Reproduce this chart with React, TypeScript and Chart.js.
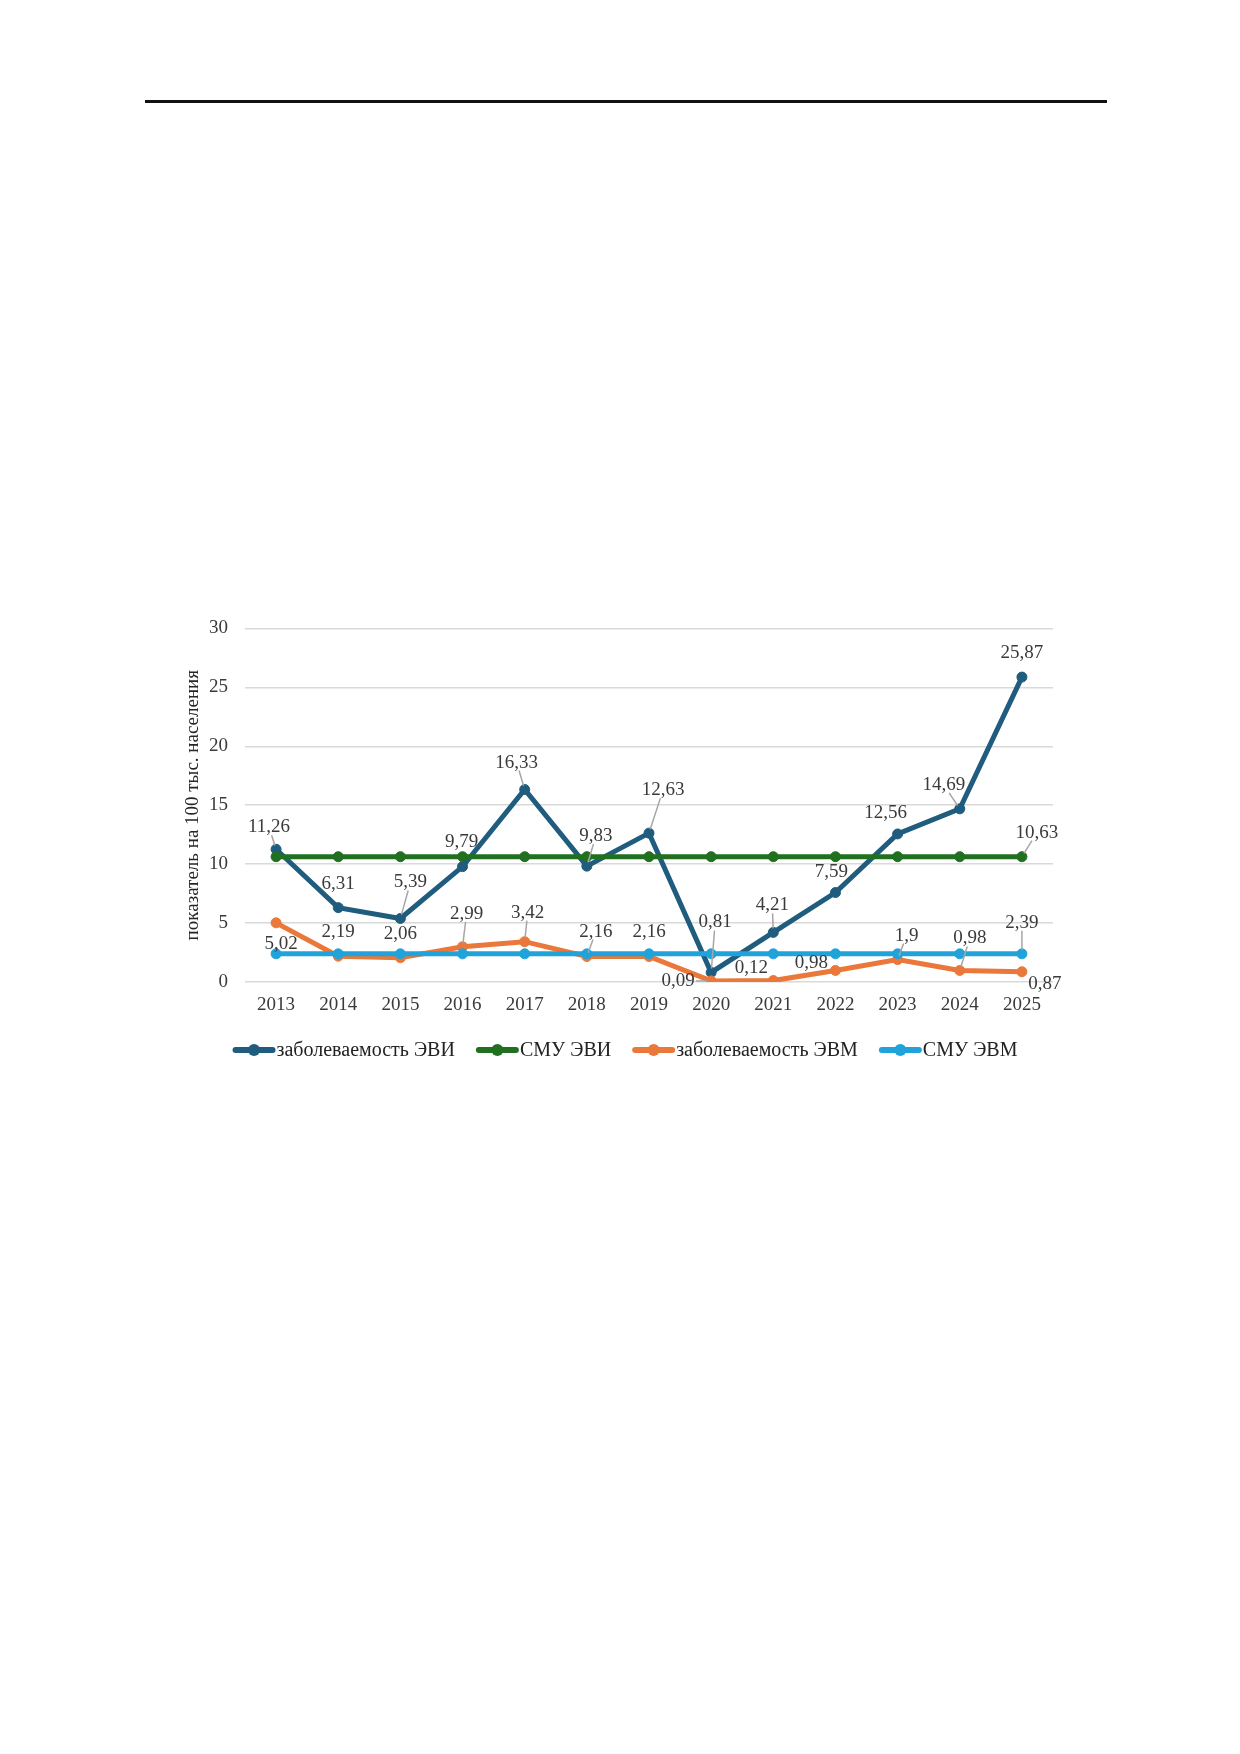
import { useEffect, useRef } from "react";
import { Chart, registerables, Plugin } from "chart.js";

Chart.register(...registerables);

const years = ["2013", "2014", "2015", "2016", "2017", "2018", "2019", "2020", "2021", "2022", "2023", "2024", "2025"];

const incidenceEVI = [11.26, 6.31, 5.39, 9.79, 16.33, 9.83, 12.63, 0.81, 4.21, 7.59, 12.56, 14.69, 25.87];
const smuEVI = [10.63, 10.63, 10.63, 10.63, 10.63, 10.63, 10.63, 10.63, 10.63, 10.63, 10.63, 10.63, 10.63];
const incidenceEVM = [5.02, 2.19, 2.06, 2.99, 3.42, 2.16, 2.16, 0.09, 0.12, 0.98, 1.9, 0.98, 0.87];
const smuEVM = [2.39, 2.39, 2.39, 2.39, 2.39, 2.39, 2.39, 2.39, 2.39, 2.39, 2.39, 2.39, 2.39];

const seriesNames = ["заболеваемость ЭВИ", "СМУ ЭВИ", "заболеваемость ЭВМ", "СМУ ЭВМ"];
const seriesColors = ["#1f5c7e", "#21701f", "#e9783a", "#1fa3da"];

const yTicks = [0, 5, 10, 15, 20, 25, 30];
const yTitle = "показатель на 100 тыс. населения";

// label placement: [dx, dy, leader line?] per point, null = no label
type Lbl = [number, number, boolean] | null;
const labelsEVI: Lbl[] = [
  [-7, -22, true], [0, -24, false], [10, -36, true], [-1, -25, false], [-8, -27, true],
  [9, -30, true], [14, -43, true], [4, -50, true], [-1, -27, true], [-4, -21, false],
  [-12, -21, false], [-16, -24, true], [0, -24, false],
];
const labelsSmuEVI: Lbl[] = [null, null, null, null, null, null, null, null, null, null, null, null, [15, -24, true]];
const labelsEVM: Lbl[] = [
  [5, 21, false], [0, -24, false], [0, -24, false], [4, -33, true], [3, -29, true],
  [9, -25, true], [0, -25, false], [-33, 0, true], [-22, -13, false], [-24, -7, false],
  [9, -24, true], [10, -32, true], [23, 12, false],
];
const labelsSmuEVM: Lbl[] = [null, null, null, null, null, null, null, null, null, null, null, null, [0, -31, true]];
const labelSets = [labelsEVI, labelsSmuEVI, labelsEVM, labelsSmuEVM];

const FONT = "'Liberation Serif', 'Times New Roman', serif";

const dataLabels: Plugin<"line"> = {
  id: "dataLabels",
  afterDatasetsDraw(chart) {
    const ctx = chart.ctx;
    ctx.save();
    ctx.font = `19px ${FONT}`;
    ctx.textAlign = "center";
    ctx.textBaseline = "middle";
    chart.data.datasets.forEach((ds, di) => {
      const meta = chart.getDatasetMeta(di);
      const set = labelSets[di];
      meta.data.forEach((pt, i) => {
        const l = set[i];
        if (!l) return;
        const v = ds.data[i] as number;
        const text = String(v).replace(".", ",");
        const lx = pt.x + l[0];
        const ly = pt.y + l[1];
        if (l[2]) {
          const hw = ctx.measureText(text).width / 2 + 1;
          const hh = 8;
          const dx = pt.x - lx;
          const dy = pt.y - ly;
          const len = Math.hypot(dx, dy);
          const s = Math.min(Math.abs(dx) > 0 ? hw / Math.abs(dx) : Infinity, Math.abs(dy) > 0 ? hh / Math.abs(dy) : Infinity);
          const sx = lx + dx * s;
          const sy = ly + dy * s;
          const ex = pt.x - (dx / len) * 4;
          const ey = pt.y - (dy / len) * 4;
          if (s < 1) {
            ctx.strokeStyle = "#a6a6a6";
            ctx.lineWidth = 1.5;
            ctx.beginPath();
            ctx.moveTo(sx, sy);
            ctx.lineTo(ex, ey);
            ctx.stroke();
          }
        }
        ctx.fillStyle = "#3a3a3a";
        ctx.fillText(text, lx, ly);
      });
    });
    ctx.restore();
  },
};

const lineLegend: Plugin<"line"> = {
  id: "lineLegend",
  afterDraw(chart) {
    const ctx = chart.ctx;
    const area = chart.chartArea;
    ctx.save();
    ctx.font = `20px ${FONT}`;
    ctx.textBaseline = "middle";
    ctx.textAlign = "left";
    const markW = 43;
    const gapIn = 1;
    const gapOut = 21;
    const widths = seriesNames.map((n) => ctx.measureText(n).width);
    const total = widths.reduce((a, w) => a + markW + gapIn + w, 0) + gapOut * (seriesNames.length - 1);
    let x = (area.left + area.right) / 2 - 24 - total / 2;
    const y = area.bottom + 68;
    seriesNames.forEach((n, i) => {
      ctx.strokeStyle = seriesColors[i];
      ctx.fillStyle = seriesColors[i];
      ctx.lineWidth = 6;
      ctx.lineCap = "round";
      ctx.beginPath();
      ctx.moveTo(x + 3, y);
      ctx.lineTo(x + markW - 3, y);
      ctx.stroke();
      ctx.beginPath();
      ctx.arc(x + markW / 2, y, 6, 0, Math.PI * 2);
      ctx.fill();
      ctx.fillStyle = "#222";
      ctx.fillText(n, x + markW + gapIn, y + 1);
      x += markW + gapIn + widths[i] + gapOut;
    });
    ctx.restore();
  },
};

export default function App() {
  const canvasRef = useRef<HTMLCanvasElement>(null);

  useEffect(() => {
    if (!canvasRef.current) return;
    const series = [incidenceEVI, smuEVI, incidenceEVM, smuEVM];
    const chart = new Chart(canvasRef.current, {
      type: "line",
      data: {
        labels: years,
        datasets: series.map((d, i) => ({
          label: seriesNames[i],
          data: d,
          borderColor: seriesColors[i],
          backgroundColor: seriesColors[i],
          borderWidth: 5,
          pointRadius: 5,
          pointBorderWidth: 1,
          pointBackgroundColor: seriesColors[i],
          pointBorderColor: seriesColors[i],
          tension: 0,
          order: series.length - i,
        })),
      },
      options: {
        animation: false,
        responsive: false,
        layout: { padding: { top: 24, right: 37, bottom: 78, left: 0 } },
        plugins: {
          legend: { display: false },
          tooltip: { enabled: false },
        },
        scales: {
          x: {
            offset: true,
            grid: { display: false, drawTicks: false, offset: true },
            border: { display: false },
            ticks: { color: "#3a3a3a", font: { family: FONT, size: 19 }, padding: 12 },
            afterFit: (s) => { s.height = 40; },
          },
          y: {
            min: 0,
            max: 30,
            afterBuildTicks: (s) => { s.ticks = yTicks.map((v) => ({ value: v })); },
            grid: { color: "#d9d9d9", lineWidth: 1.5, drawTicks: false },
            border: { display: false },
            ticks: { color: "#3a3a3a", font: { family: FONT, size: 19 }, padding: 17 },
            title: {
              display: true,
              text: yTitle,
              color: "#262626",
              font: { family: FONT, size: 19 },
              padding: { top: 22, bottom: 0 },
            },
            afterFit: (s) => { s.width = 85; },
          },
        },
      },
      plugins: [dataLabels, lineLegend],
    });
    return () => chart.destroy();
  }, []);

  return (
    <div style={{ position: "relative", width: 1224, height: 1740 }}>
      <div style={{ position: "absolute", left: 137, top: 92, width: 962, height: 3, background: "#111" }} />
      <canvas
        ref={canvasRef}
        width={930}
        height={500}
        style={{ position: "absolute", left: 152, top: 592, width: 930, height: 500 }}
      />
    </div>
  );
}
